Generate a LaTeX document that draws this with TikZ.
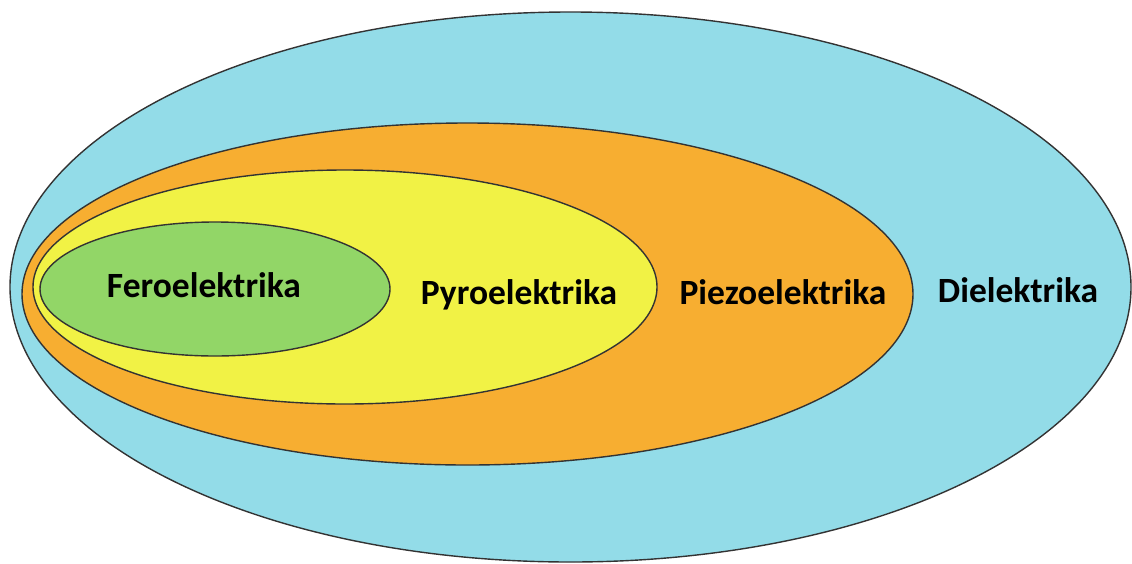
\documentclass[tikz,border=0pt]{standalone}
\usepackage{fontspec}
\setmainfont{Carlito}
\begin{document}
\begin{tikzpicture}[x=1pt,y=-1pt,
  ring/.style={draw=black!80,line width=1.4pt},
  lbl/.style={font=\fontsize{35.5}{40}\selectfont\bfseries,text=black,inner sep=0pt}]
\definecolor{diel}{HTML}{93DCE8}
\definecolor{piez}{HTML}{F7AE31}
\definecolor{pyro}{HTML}{F1F245}
\definecolor{fero}{HTML}{92D667}
\useasboundingbox (0,0) rectangle (1132,563);
% nested classes of dielectrics
\filldraw[ring,fill=diel] (570.5,287) ellipse [x radius=560.5,y radius=275];
\filldraw[ring,fill=piez] (467.5,294) ellipse [x radius=445.5,y radius=171];
\filldraw[ring,fill=pyro] (345,287) ellipse [x radius=312,y radius=117];
\filldraw[ring,fill=fero] (215,289) ellipse [x radius=175,y radius=67];
% labels
\node[lbl] (fe) at (204,285) {Feroelektrika};
\node[lbl] (py) at (519,295) {Pyroelektrika};
\node[lbl] (pz) at (783,292) {Piezoelektrika};
\node[lbl] (di) at (1018,290) {Dielektrika};
\end{tikzpicture}
\end{document}
